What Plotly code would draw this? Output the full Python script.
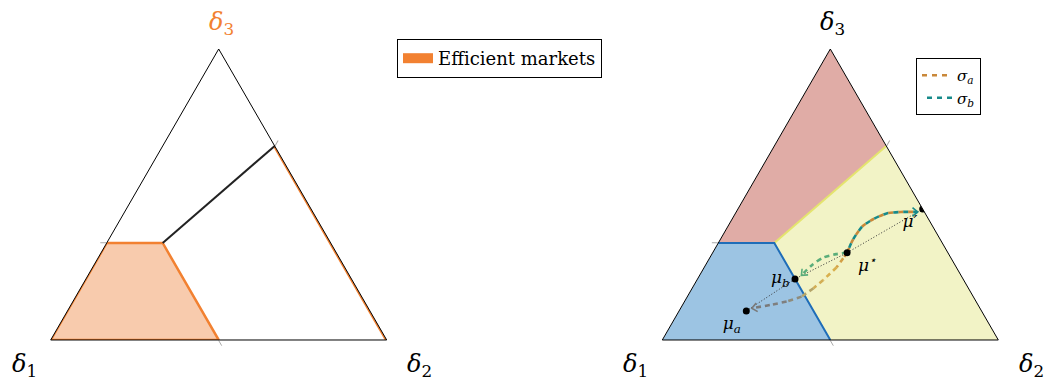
import numpy as np
import plotly.graph_objects as go

# ---- simplex regions, given as (delta1, delta2, delta3) ----
eff_d1 = [1.0, 2/3, 0.5, 0.5, 1.0]          # efficient markets / blue region
eff_d2 = [0.0, 0.0, 1/6, 0.5, 0.0]
eff_d3 = [0.0, 1/3, 1/3, 0.0, 0.0]

top_d1 = [0.0, 2/3, 0.5, 0.0, 0.0]          # red region
top_d2 = [0.0, 0.0, 1/6, 1/3, 0.0]
top_d3 = [1.0, 1/3, 1/3, 2/3, 1.0]

right_d1 = [0.5, 0.0, 0.0, 0.5, 0.5]        # yellow region
right_d2 = [1/6, 1/3, 1.0, 0.5, 1/6]
right_d3 = [1/3, 2/3, 0.0, 0.0, 1/3]

ridge_d1 = [0.5, 0.0]                        # boundary from the kink to the right edge
ridge_d2 = [1/6, 1/3]
ridge_d3 = [1/3, 2/3]

edge_d1 = [0.0, 0.0]                         # upper part of the right edge
edge_d2 = [1/3, 1.0]
edge_d3 = [2/3, 0.0]

blue_d1 = [2/3, 0.5, 0.5]                    # blue border
blue_d2 = [0.0, 1/6, 0.5]
blue_d3 = [1/3, 1/3, 0.0]

# ---- points ----
pt_names = ["μ<sub>a</sub>", "μ<sub>b</sub>", " μ<sup>⋆</sup>", "μ′"]
pt_d1 = [0.70, 0.50, 0.30, 0.00]
pt_d2 = [0.20, 0.29, 0.40, 0.55]
pt_d3 = [0.10, 0.21, 0.30, 0.45]

# ---- paths ----
up_d1 = [0.30, 0.26, 0.21, 0.165, 0.115, 0.07, 0.02]      # mu* -> mu'
up_d2 = [0.40, 0.395, 0.40, 0.42, 0.45, 0.49, 0.54]
up_d3 = [0.30, 0.345, 0.39, 0.415, 0.435, 0.44, 0.44]

gb_d1 = [0.30, 0.335, 0.38, 0.425, 0.475]                 # mu* -> mu_b
gb_d2 = [0.40, 0.37, 0.337, 0.317, 0.303]
gb_d3 = [0.30, 0.295, 0.283, 0.258, 0.222]

ga_d1 = [0.30, 0.321, 0.356, 0.418, 0.461, 0.511, 0.564, 0.62, 0.679]   # mu* -> mu_a
ga_d2 = [0.40, 0.398, 0.394, 0.376, 0.361, 0.340, 0.304, 0.26, 0.212]
ga_d3 = [0.30, 0.281, 0.250, 0.206, 0.178, 0.149, 0.132, 0.12, 0.109]

ORANGE = "#f28131"
SIG_A = "#c9883a"
SIG_B = "#178a8a"
GREEN = "#5aad7a"
SERIF = "DejaVu Serif"

SQ = np.sqrt(3) / 2


def to_xy(d1, d2, d3):
    return d2 + d3 / 2, d3 * SQ


def to_tern(x, y):
    d3 = y / SQ
    d2 = x - d3 / 2
    return 1 - d2 - d3, d2, d3


def chevron(d1, d2, d3, size=0.02, spread=40):
    """Open arrow head at the last point of a path, pointing along its last step."""
    x1, y1 = to_xy(d1[-2], d2[-2], d3[-2])
    x2, y2 = to_xy(d1[-1], d2[-1], d3[-1])
    ang = np.arctan2(y2 - y1, x2 - x1)
    pts = []
    for s in (1, 0, -1):
        if s == 0:
            pts.append((x2, y2))
        else:
            a = ang + np.pi - s * np.radians(spread)
            pts.append((x2 + size * np.cos(a), y2 + size * np.sin(a)))
    t = [to_tern(x, y) for x, y in pts]
    return [p[0] for p in t], [p[1] for p in t], [p[2] for p in t]


def tern(d1, d2, d3, sub, **kw):
    kw.setdefault("showlegend", False)
    kw.setdefault("hoverinfo", "skip")
    return go.Scatterternary(a=d3, b=d1, c=d2, subplot=sub, **kw)


fig = go.Figure()

# ---------- left simplex ----------
fig.add_trace(tern(eff_d1, eff_d2, eff_d3, "ternary", mode="lines", fill="toself",
                   fillcolor="#f8cbad", line=dict(color=ORANGE, width=2.5), cliponaxis=False))
fig.add_trace(tern(edge_d1, edge_d2, edge_d3, "ternary", mode="lines",
                   line=dict(color=ORANGE, width=3.5), cliponaxis=False))
fig.add_trace(tern(ridge_d1, ridge_d2, ridge_d3, "ternary", mode="lines",
                   line=dict(color="#222222", width=2)))
fig.add_trace(tern([None], [None], [None], "ternary", mode="lines", name="Efficient markets",
                   line=dict(color=ORANGE, width=12), showlegend=True, legend="legend"))

# ---------- right simplex ----------
fig.add_trace(tern(top_d1, top_d2, top_d3, "ternary2", mode="lines", fill="toself",
                   fillcolor="#e0aca6", line=dict(width=0)))
fig.add_trace(tern(eff_d1, eff_d2, eff_d3, "ternary2", mode="lines", fill="toself",
                   fillcolor="#9cc4e3", line=dict(width=0)))
fig.add_trace(tern(right_d1, right_d2, right_d3, "ternary2", mode="lines", fill="toself",
                   fillcolor="#f2f3c6", line=dict(width=0)))
fig.add_trace(tern(ridge_d1, ridge_d2, ridge_d3, "ternary2", mode="lines",
                   line=dict(color="#e4e46e", width=2)))
fig.add_trace(tern(blue_d1, blue_d2, blue_d3, "ternary2", mode="lines",
                   line=dict(color="#1f6db8", width=2)))

# dotted chain between the points
fig.add_trace(tern(pt_d1, pt_d2, pt_d3, "ternary2", mode="lines",
                   line=dict(color="#333333", width=1, dash="1px,2px")))

# sigma_a : mu* -> mu'  and  mu* -> mu_a
fig.add_trace(tern(up_d1, up_d2, up_d3, "ternary2", mode="lines", name="<i>σ<sub>a</sub></i>",
                   line=dict(color=SIG_A, width=2.6, dash="5px,5px", shape="spline", smoothing=0.7),
                   showlegend=True, legend="legend2", legendgroup="a"))
seg_cols = ["#c8863a", "#d39f46", "#d9b04e", "#d3ae55", "#b5a468", "#8f8c7c", "#7f7f7f", "#7a7a7a"]
for i, col in enumerate(seg_cols):
    fig.add_trace(tern(ga_d1[i:i + 2], ga_d2[i:i + 2], ga_d3[i:i + 2], "ternary2", mode="lines",
                       line=dict(color=col, width=2.6, dash="5px,4px")))
cx = chevron(ga_d1, ga_d2, ga_d3)
fig.add_trace(tern(*cx, "ternary2", mode="lines", line=dict(color="#7a7a7a", width=1.6)))

# sigma_b : mu* -> mu'  and  mu* -> mu_b
fig.add_trace(tern(up_d1, up_d2, up_d3, "ternary2", mode="lines", name="<i>σ<sub>b</sub></i>",
                   line=dict(color=SIG_B, width=2.6, dash="0px,5px,5px,0px", shape="spline",
                             smoothing=0.7),
                   showlegend=True, legend="legend2", legendgroup="b"))
cx = chevron(up_d1, up_d2, up_d3)
fig.add_trace(tern(*cx, "ternary2", mode="lines", line=dict(color=SIG_B, width=1.6)))
fig.add_trace(tern(gb_d1, gb_d2, gb_d3, "ternary2", mode="lines",
                   line=dict(color=GREEN, width=2.6, dash="5px,4px", shape="spline", smoothing=0.7)))
cx = chevron(gb_d1, gb_d2, gb_d3)
fig.add_trace(tern(*cx, "ternary2", mode="lines", line=dict(color=GREEN, width=1.6)))

# points with labels
fig.add_trace(tern(pt_d1, pt_d2, pt_d3, "ternary2", mode="markers+text", text=pt_names,
                   textposition=["bottom left", "middle left", "bottom right", "bottom left"],
                   textfont=dict(family=SERIF, size=17, color="black", style="italic"),
                   marker=dict(color="black", size=7)))

axis_common = dict(showgrid=False, showticklabels=False, ticks="outside", ticklen=6,
                   tickcolor="#aaaaaa", tickwidth=1, linecolor="black", linewidth=1,
                   title=dict(text=""))


def tern_layout(x0, x1):
    return dict(
        sum=1, bgcolor="white",
        domain=dict(x=[x0 / 1051, x1 / 1051], y=[1 - 340 / 382, 1 - 49 / 382]),
        aaxis=dict(tickvals=[1/3], **axis_common),
        baxis=dict(tickvals=[0.5], **axis_common),
        caxis=dict(tickvals=[1/3], **axis_common),
    )


labels = [
    ("<i>δ</i><sub>1</sub>", 24, 365, "black"),
    ("<i>δ</i><sub>2</sub>", 419, 365, "black"),
    ("<i>δ</i><sub>3</sub>", 221, 24, ORANGE),
    ("<i>δ</i><sub>1</sub>", 635, 365, "black"),
    ("<i>δ</i><sub>2</sub>", 1031, 365, "black"),
    ("<i>δ</i><sub>3</sub>", 832, 24, "black"),
]
annotations = [dict(text=t, x=x / 1051, y=1 - y / 382, xref="paper", yref="paper",
                    showarrow=False, xanchor="center", yanchor="middle",
                    font=dict(family=SERIF, size=24, color=c)) for t, x, y, c in labels]

fig.update_layout(
    width=1051, height=382,
    margin=dict(l=0, r=0, t=0, b=0),
    paper_bgcolor="white",
    font=dict(family=SERIF),
    ternary=tern_layout(50.7, 386.7),
    ternary2=tern_layout(662.3, 998.3),
    annotations=annotations,
    legend=dict(x=397 / 1051, y=1 - 39 / 382, xanchor="left", yanchor="top",
                bordercolor="black", borderwidth=1, bgcolor="white",
                font=dict(family=SERIF, size=18, color="black")),
    legend2=dict(x=916 / 1051, y=1 - 58 / 382, xanchor="left", yanchor="top",
                 bordercolor="black", borderwidth=1, bgcolor="white", tracegroupgap=0,
                 itemwidth=30,
                 font=dict(family=SERIF, size=15, color="black")),
)

fig.write_html("out.html")
